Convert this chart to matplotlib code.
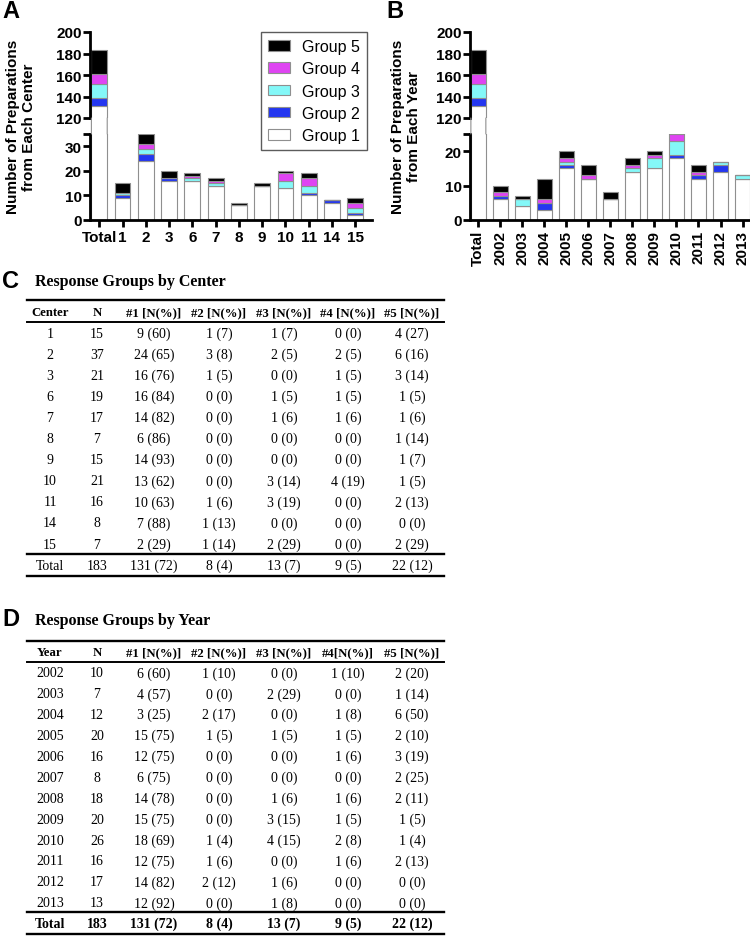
import matplotlib
matplotlib.use("Agg")
import matplotlib.pyplot as plt
from matplotlib.patches import Patch, ConnectionPatch
import numpy as np

W, H = 750, 937

# ---------------- data: panel A (by center) ----------------
center_labels = ['Total', '1', '2', '3', '6', '7', '8', '9', '10', '11', '14', '15']
center_g1 = [131, 9, 24, 16, 16, 14, 6, 14, 13, 10, 7, 2]
center_g2 = [8, 1, 3, 1, 0, 0, 0, 0, 0, 1, 1, 1]
center_g3 = [13, 1, 2, 0, 1, 1, 0, 0, 3, 3, 0, 2]
center_g4 = [9, 0, 2, 0, 1, 1, 0, 0, 3, 3, 0, 2]
center_g5 = [22, 4, 4, 3, 1, 1, 1, 1, 1, 2, 0, 2]

# ---------------- data: panel B (by year) ----------------
year_labels = ['Total', '2002', '2003', '2004', '2005', '2006', '2007', '2008',
               '2009', '2010', '2011', '2012', '2013']
year_g1 = [131, 6, 4, 3, 15, 12, 6, 14, 15, 18, 12, 14, 12]
year_g2 = [8, 1, 0, 2, 1, 0, 0, 0, 0, 1, 1, 2, 0]
year_g3 = [13, 0, 2, 0, 1, 0, 0, 1, 3, 4, 0, 1, 1]
year_g4 = [9, 1, 0, 1, 1, 1, 0, 1, 1, 2, 1, 0, 0]
year_g5 = [22, 2, 1, 6, 2, 3, 2, 2, 1, 1, 2, 0, 0]

group_names = ['Group 1', 'Group 2', 'Group 3', 'Group 4', 'Group 5']
group_colors = ['#FFFFFF', '#2336F0', '#84F8F8', '#DF44F2', '#000000']

# ---------------- data: table C ----------------
tc_header = ['Center', 'N', '#1 [N(%)]', '#2 [N(%)]', '#3 [N(%)]', '#4 [N(%)]', '#5 [N(%)]']
tc_center = ['1', '2', '3', '6', '7', '8', '9', '10', '11', '14', '15']
tc_n = ['15', '37', '21', '19', '17', '7', '15', '21', '16', '8', '7']
tc_c1 = ['9 (60)', '24 (65)', '16 (76)', '16 (84)', '14 (82)', '6 (86)', '14 (93)', '13 (62)', '10 (63)', '7 (88)', '2 (29)']
tc_c2 = ['1 (7)', '3 (8)', '1 (5)', '0 (0)', '0 (0)', '0 (0)', '0 (0)', '0 (0)', '1 (6)', '1 (13)', '1 (14)']
tc_c3 = ['1 (7)', '2 (5)', '0 (0)', '1 (5)', '1 (6)', '0 (0)', '0 (0)', '3 (14)', '3 (19)', '0 (0)', '2 (29)']
tc_c4 = ['0 (0)', '2 (5)', '1 (5)', '1 (5)', '1 (6)', '0 (0)', '0 (0)', '4 (19)', '0 (0)', '0 (0)', '0 (0)']
tc_c5 = ['4 (27)', '6 (16)', '3 (14)', '1 (5)', '1 (6)', '1 (14)', '1 (7)', '1 (5)', '2 (13)', '0 (0)', '2 (29)']
tc_total = ['Total', '183', '131 (72)', '8 (4)', '13 (7)', '9 (5)', '22 (12)']

# ---------------- data: table D ----------------
td_header = ['Year', 'N', '#1 [N(%)]', '#2 [N(%)]', '#3 [N(%)]', '#4[N(%)]', '#5 [N(%)]']
td_year = ['2002', '2003', '2004', '2005', '2006', '2007', '2008', '2009', '2010', '2011', '2012', '2013']
td_n = ['10', '7', '12', '20', '16', '8', '18', '20', '26', '16', '17', '13']
td_c1 = ['6 (60)', '4 (57)', '3 (25)', '15 (75)', '12 (75)', '6 (75)', '14 (78)', '15 (75)', '18 (69)', '12 (75)', '14 (82)', '12 (92)']
td_c2 = ['1 (10)', '0 (0)', '2 (17)', '1 (5)', '0 (0)', '0 (0)', '0 (0)', '0 (0)', '1 (4)', '1 (6)', '2 (12)', '0 (0)']
td_c3 = ['0 (0)', '2 (29)', '0 (0)', '1 (5)', '0 (0)', '0 (0)', '1 (6)', '3 (15)', '4 (15)', '0 (0)', '1 (6)', '1 (8)']
td_c4 = ['1 (10)', '0 (0)', '1 (8)', '1 (5)', '1 (6)', '0 (0)', '1 (6)', '1 (5)', '2 (8)', '1 (6)', '0 (0)', '0 (0)']
td_c5 = ['2 (20)', '1 (14)', '6 (50)', '2 (10)', '3 (19)', '2 (25)', '2 (11)', '1 (5)', '1 (4)', '2 (13)', '0 (0)', '0 (0)']
td_total = ['Total', '183', '131 (72)', '8 (4)', '13 (7)', '9 (5)', '22 (12)']

SANS = ['Liberation Sans', 'DejaVu Sans']
SERIF = ['Liberation Serif', 'DejaVu Serif']
plt.rcParams['font.family'] = SANS

fig = plt.figure(figsize=(W / 100, H / 100), dpi=100)


def rect(l, t, r, b):
    return [l / W, 1 - b / H, (r - l) / W, (b - t) / H]


EDGE = '#8f8f8f'
SPW = 2.0
TICKFS = 11


def broken_bar(l, r, t_up, b_up, t_lo, b_lo, labels, groups, up_lim, lo_lim,
               lo_ticks, xlim, width, rot):
    ax_up = fig.add_axes(rect(l, t_up, r, b_up))
    ax_lo = fig.add_axes(rect(l, t_lo, r, b_lo))
    x = np.arange(len(labels))
    for ax in (ax_up, ax_lo):
        bottom = np.zeros(len(labels))
        for vals, col in zip(groups, group_colors):
            v = np.array(vals, dtype=float)
            ax.bar(x, v, width=width, bottom=bottom, color=col,
                   edgecolor=EDGE, linewidth=0.8, zorder=2)
            bottom += v
        ax.set_xlim(*xlim)
        for s in ('top', 'right'):
            ax.spines[s].set_visible(False)
        ax.spines['left'].set_linewidth(SPW)
        ax.spines['bottom'].set_linewidth(SPW)
        ax.tick_params(axis='y', direction='out', length=5, width=SPW,
                       labelsize=TICKFS, pad=1)
    ax_up.set_ylim(*up_lim)
    ax_up.set_yticks(np.arange(up_lim[0], up_lim[1] + 1, 20))
    ax_up.spines['bottom'].set_visible(False)
    ax_up.set_xticks([])
    ax_lo.set_ylim(*lo_lim)
    ax_lo.set_yticks(list(lo_ticks) + [lo_lim[1]])
    ax_lo.set_yticklabels([str(t) for t in lo_ticks] + [''])
    ax_lo.set_xticks(x)
    ax_lo.set_xticklabels(labels, rotation=rot, fontweight='bold', fontsize=TICKFS)
    ax_lo.tick_params(axis='x', direction='out', length=5, width=SPW, pad=2)
    for ax in (ax_up, ax_lo):
        for lab in ax.get_yticklabels():
            lab.set_fontweight('bold')
    # continue the Total bar edges through the break
    for xe in (x[0] - width / 2, x[0] + width / 2):
        cp = ConnectionPatch(xyA=(xe, up_lim[0]), coordsA=ax_up.transData,
                             xyB=(xe, lo_lim[1]), coordsB=ax_lo.transData,
                             color=EDGE, linewidth=0.8)
        fig.add_artist(cp)
    return ax_up, ax_lo


# Panel A
axA_up, axA_lo = broken_bar(90, 372, 33, 119, 135, 221, center_labels,
                            [center_g1, center_g2, center_g3, center_g4, center_g5],
                            (120, 200), (0, 35), [0, 10, 20, 30],
                            (-0.4, 11.72), 0.68, 0)
# Panel B
axB_up, axB_lo = broken_bar(470, 750, 33, 119, 135, 221, year_labels,
                            [year_g1, year_g2, year_g3, year_g4, year_g5],
                            (120, 200), (0, 25), [0, 10, 20],
                            (-0.38, 12.34), 0.68, 90)

# legend in panel A
handles = [Patch(facecolor=c, edgecolor=EDGE, linewidth=0.8, label=n)
           for n, c in zip(group_names, group_colors)][::-1]
leg = fig.legend(handles=handles, loc='upper right',
                 bbox_to_anchor=(367 / W, 1 - 33 / H), frameon=True,
                 fontsize=11.5, handlelength=1.35, handleheight=0.65,
                 labelspacing=0.45, borderpad=0.45, handletextpad=0.75,
                 fancybox=False, borderaxespad=0)
leg.get_frame().set_edgecolor('#333333')
leg.get_frame().set_linewidth(1.0)

# y labels
fig.text(21 / W, 1 - 127 / H, 'Number of Preparations\nfrom Each Center',
         rotation=90, ha='center', va='center', multialignment='center',
         fontsize=11, fontweight='bold', linespacing=1.25)
fig.text(406 / W, 1 - 127 / H, 'Number of Preparations\nfrom Each Year',
         rotation=90, ha='center', va='center', multialignment='center',
         fontsize=11, fontweight='bold', linespacing=1.25)

# panel letters
for letter, px, py in (('A', 2, 12), ('B', 386, 12), ('C', 2, 282), ('D', 2, 620)):
    fig.text(px / W, 1 - py / H, letter, fontsize=17, fontweight='bold',
             ha='left', va='center')

# ---------------- tables ----------------
ov = fig.add_axes([0, 0, 1, 1])
ov.set_xlim(0, W)
ov.set_ylim(H, 0)
ov.axis('off')
ov.patch.set_alpha(0)

col_x = [50, 97, 154, 219, 284, 348, 412]
TL, TR = 27, 444
TFS = 10
HFS = 9.2


def draw_table(title, title_y, header, first_col, cols, total, y_head, dy,
               total_bold):
    ov.text(35, title_y, title, family=SERIF, fontweight='bold', fontsize=11.5,
            ha='left', va='center')
    n = len(first_col)
    ov.plot([TL, TR], [y_head - 0.55 * dy] * 2, color='black', lw=1.7)
    ov.plot([TL, TR], [y_head + 0.47 * dy] * 2, color='black', lw=1.4)
    ov.plot([TL, TR], [y_head + (n + 0.45) * dy] * 2, color='black', lw=1.7)
    ov.plot([TL, TR], [y_head + (n + 1.5) * dy] * 2, color='black', lw=1.7)
    for cx, h in zip(col_x, header):
        ov.text(cx, y_head, h, family=SERIF, fontweight='bold', fontsize=HFS,
                ha='center', va='center')
    for i in range(n):
        y = y_head + (i + 1) * dy
        row = [first_col[i]] + [c[i] for c in cols]
        for cx, v in zip(col_x, row):
            ov.text(cx, y, v, family=SERIF, fontsize=TFS, ha='center',
                    va='center')
    y = y_head + (n + 1) * dy
    for cx, v in zip(col_x, total):
        ov.text(cx, y, v, family=SERIF, fontsize=TFS, ha='center', va='center',
                fontweight='bold' if total_bold else 'normal')


draw_table('Response Groups by Center', 282, tc_header, tc_center,
           [tc_n, tc_c1, tc_c2, tc_c3, tc_c4, tc_c5], tc_total, 313, 21.1, False)
draw_table('Response Groups by Year', 621, td_header, td_year,
           [td_n, td_c1, td_c2, td_c3, td_c4, td_c5], td_total, 653, 20.9, True)

fig.savefig('out.png', dpi=100)
